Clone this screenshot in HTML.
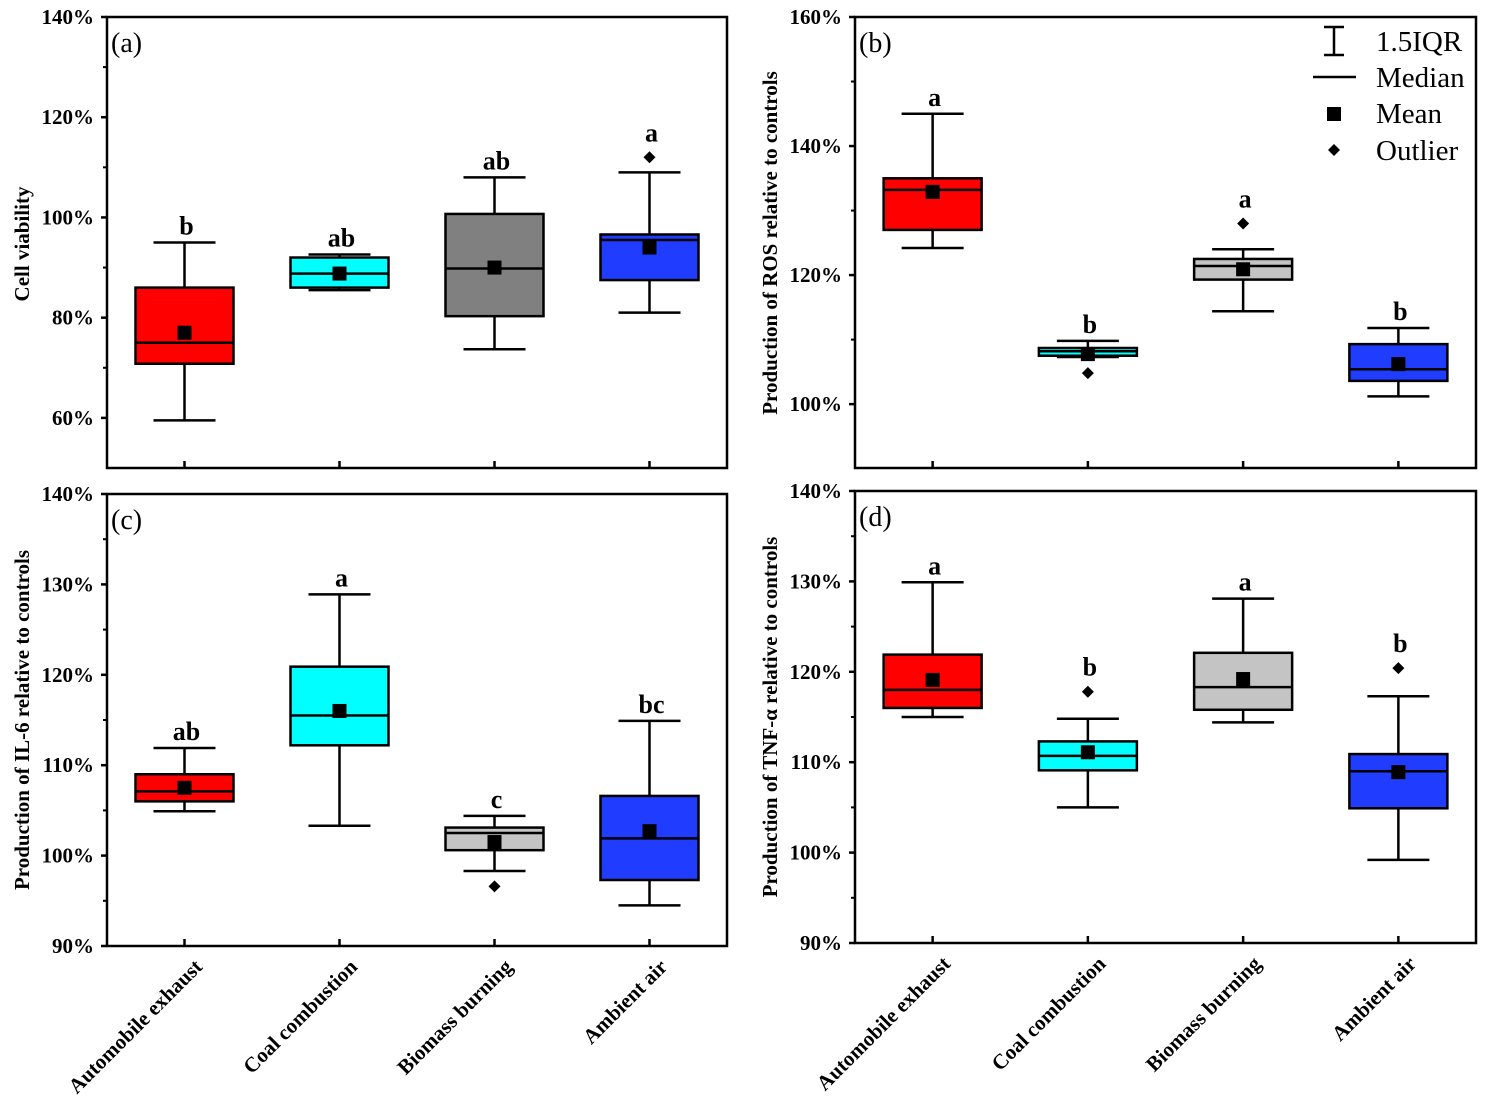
<!DOCTYPE html>
<html><head><meta charset="utf-8"><style>
body{margin:0;background:#fff;}
svg{display:block;font-family:"Liberation Serif",serif;}
</style></head><body>
<svg id="chart" width="1494" height="1112" xmlns="http://www.w3.org/2000/svg"></svg>
<script>
const categories = ["Automobile exhaust","Coal combustion","Biomass burning","Ambient air"];
const fills = ["#ff0000","#00ffff","#808080","#1f3cff"];
// panel a
const aLow=[59.5,85.5,73.7,81], aQ1=[70.8,86,80.3,87.5], aMed=[75,88.8,89.8,95.5], aQ3=[86,92,100.7,96.6], aHigh=[95,92.6,108,109], aMean=[77,88.8,90,94], aOut=[[],[],[],[112]], aLet=["b","ab","ab","a"];
// panel b
const bLow=[124.2,107.3,114.4,101.2], bQ1=[127,107.5,119.3,103.6], bMed=[133.2,108.2,121.4,105.4], bQ3=[135,108.7,122.5,109.3], bHigh=[145,109.8,124,111.8], bMean=[132.9,107.75,120.9,106.2], bOut=[[],[104.8],[128],[]], bLet=["a","b","a","b"];
// panel c
const cLow=[104.9,103.3,98.3,94.5], cQ1=[106,112.2,100.6,97.3], cMed=[107.1,115.5,102.5,101.9], cQ3=[109,120.9,103.1,106.6], cHigh=[111.9,128.9,104.4,114.9], cMean=[107.5,116,101.5,102.7], cOut=[[],[],[96.6],[]], cLet=["ab","a","c","bc"];
// panel d
const dLow=[115,105,114.4,99.2], dQ1=[116,109.1,115.8,104.9], dMed=[118,110.7,118.3,109], dQ3=[121.9,112.3,122.1,110.9], dHigh=[129.9,114.8,128.1,117.3], dMean=[119.1,111.1,119.2,108.9], dOut=[[],[117.8],[],[120.4]], dLet=["a","b","a","b"];
const aTicks=[60,80,100,120,140], bTicks=[100,120,140,160], cTicks=[90,100,110,120,130,140], dTicks=[90,100,110,120,130,140];

const svg=document.getElementById('chart');
const NS="http://www.w3.org/2000/svg";
function el(tag,attrs,parent){const e=document.createElementNS(NS,tag);for(const k in attrs)e.setAttribute(k,attrs[k]);(parent||svg).appendChild(e);return e;}

function panel(cfg){
  const g=el('g',{});
  
  
  const {x0,x1,y0,y1,vmin,vmax}=cfg;
  const Y=v=>y1-(v-vmin)/(vmax-vmin)*(y1-y0);
  const bw=(x1-x0)/4;
  const X=i=>x0+(i+0.5)*bw;
  const fr=el('rect',{x:x0,y:y0,width:x1-x0,height:y1-y0,fill:'none',stroke:'#000','stroke-width':2.5},g);
  
  
  const step=cfg.ticks[1]-cfg.ticks[0];
  cfg.ticks.forEach(t=>{
    el('line',{x1:x0-6,x2:x0,y1:Y(t),y2:Y(t),stroke:'#000','stroke-width':2.5},g);
    const tl=el('text',{x:x0-13,y:Y(t)+7,'text-anchor':'end','font-size':21,'font-weight':'bold'},g);
    tl.textContent=t+'%';
    
    
    const m=t+step/2;
    if(m<vmax) el('line',{x1:x0-4,x2:x0,y1:Y(m),y2:Y(m),stroke:'#000','stroke-width':2},g);
  });
  if(cfg.ticks[0]-step/2>vmin) el('line',{x1:x0-4,x2:x0,y1:Y(cfg.ticks[0]-step/2),y2:Y(cfg.ticks[0]-step/2),stroke:'#000','stroke-width':2},g);
  const yc=cfg.tc;
  const yt=el('text',{x:0,y:0,transform:`translate(${x0-78},${yc}) rotate(-90)`,'text-anchor':'middle','font-size':21,'font-weight':'bold'},g);
  yt.textContent=cfg.title;
  
  
  const pl=el('text',{x:x0+4,y:y0+35,'font-size':28},g);
  pl.textContent='('+cfg.id+')';
  
  
  for(let i=0;i<4;i++){
    const cx=X(i);
    el('line',{x1:cx,x2:cx,y1:y1,y2:y1-7,stroke:'#000','stroke-width':2.5},g);
    const fill = (cfg.id!=='a' && i===2)?'#c4c4c4':fills[i];
    const bg=el('g',{},g);
    
    
    el('line',{x1:cx,x2:cx,y1:Y(cfg.low[i]),y2:Y(cfg.high[i]),stroke:'#000','stroke-width':2.5},bg);
    [cfg.low[i],cfg.high[i]].forEach(v=>el('line',{x1:cx-31,x2:cx+31,y1:Y(v),y2:Y(v),stroke:'#000','stroke-width':2.5},bg));
    el('rect',{x:cx-49,y:Y(cfg.q3[i]),width:98,height:Y(cfg.q1[i])-Y(cfg.q3[i]),fill:fill,stroke:'#000','stroke-width':2.5},bg);
    el('line',{x1:cx-49,x2:cx+49,y1:Y(cfg.med[i]),y2:Y(cfg.med[i]),stroke:'#000','stroke-width':2.5},bg);
    const mn=el('rect',{x:cx-7,y:Y(cfg.mean[i])-7,width:14,height:14,fill:'#000'},bg);
    
    
    let top=Y(cfg.high[i])-8;
    cfg.out[i].forEach(v=>{
      const y=Y(v);
      const d=el('path',{d:`M${cx} ${y-6}L${cx+6} ${y}L${cx} ${y+6}L${cx-6} ${y}Z`,fill:'#000'},bg);
      
      
      if(y-16<top) top=y-16;
    });
    const lt=el('text',{x:cx+2,y:top,'text-anchor':'middle','font-size':26,'font-weight':'bold'},g);
    lt.textContent=cfg.letters[i];
    
    
    if(cfg.xlabels){
      const xl=el('text',{x:0,y:0,transform:`translate(${cx+19},${y1+22}) rotate(-45)`,'text-anchor':'end','font-size':21,'font-weight':'bold'},g);
      xl.textContent=categories[i];
      
      
    }
  }
}
panel({id:'a',x0:107,x1:727,y0:17,y1:468,vmin:50,vmax:140,ticks:aTicks,tc:244,title:'Cell viability',low:aLow,q1:aQ1,med:aMed,q3:aQ3,high:aHigh,mean:aMean,out:aOut,letters:aLet});
panel({id:'b',x0:855,x1:1476,y0:17,y1:468,vmin:90.1,vmax:160,ticks:bTicks,tc:243,title:'Production of ROS relative to controls',low:bLow,q1:bQ1,med:bMed,q3:bQ3,high:bHigh,mean:bMean,out:bOut,letters:bLet});
panel({id:'c',x0:107,x1:727,y0:494,y1:946,vmin:90,vmax:140,ticks:cTicks,tc:720,title:'Production of IL-6 relative to controls',low:cLow,q1:cQ1,med:cMed,q3:cQ3,high:cHigh,mean:cMean,out:cOut,letters:cLet,xlabels:true});
panel({id:'d',x0:855,x1:1476,y0:491,y1:943,vmin:90,vmax:140,ticks:dTicks,tc:717,title:'Production of TNF-\u03b1 relative to controls',low:dLow,q1:dQ1,med:dMed,q3:dQ3,high:dHigh,mean:dMean,out:dOut,letters:dLet,xlabels:true});

const lg=el('g',{});


el('line',{x1:1334,x2:1334,y1:27,y2:55,stroke:'#000','stroke-width':2.5},lg);
el('line',{x1:1324,x2:1344,y1:27,y2:27,stroke:'#000','stroke-width':2.5},lg);
el('line',{x1:1324,x2:1344,y1:55,y2:55,stroke:'#000','stroke-width':2.5},lg);
el('line',{x1:1313,x2:1356,y1:77,y2:77,stroke:'#000','stroke-width':2.5},lg);
el('rect',{x:1327,y:107,width:14,height:14,fill:'#000'},lg);
el('path',{d:'M1334 144L1340 150L1334 156L1328 150Z',fill:'#000'},lg);
[["1.5IQR",51],["Median",87],["Mean",123],["Outlier",160]].forEach(([t,y])=>{
  const tx=el('text',{x:1376,y:y,'font-size':29},lg);
  tx.textContent=t;
  
  
});
</script>
</body></html>
